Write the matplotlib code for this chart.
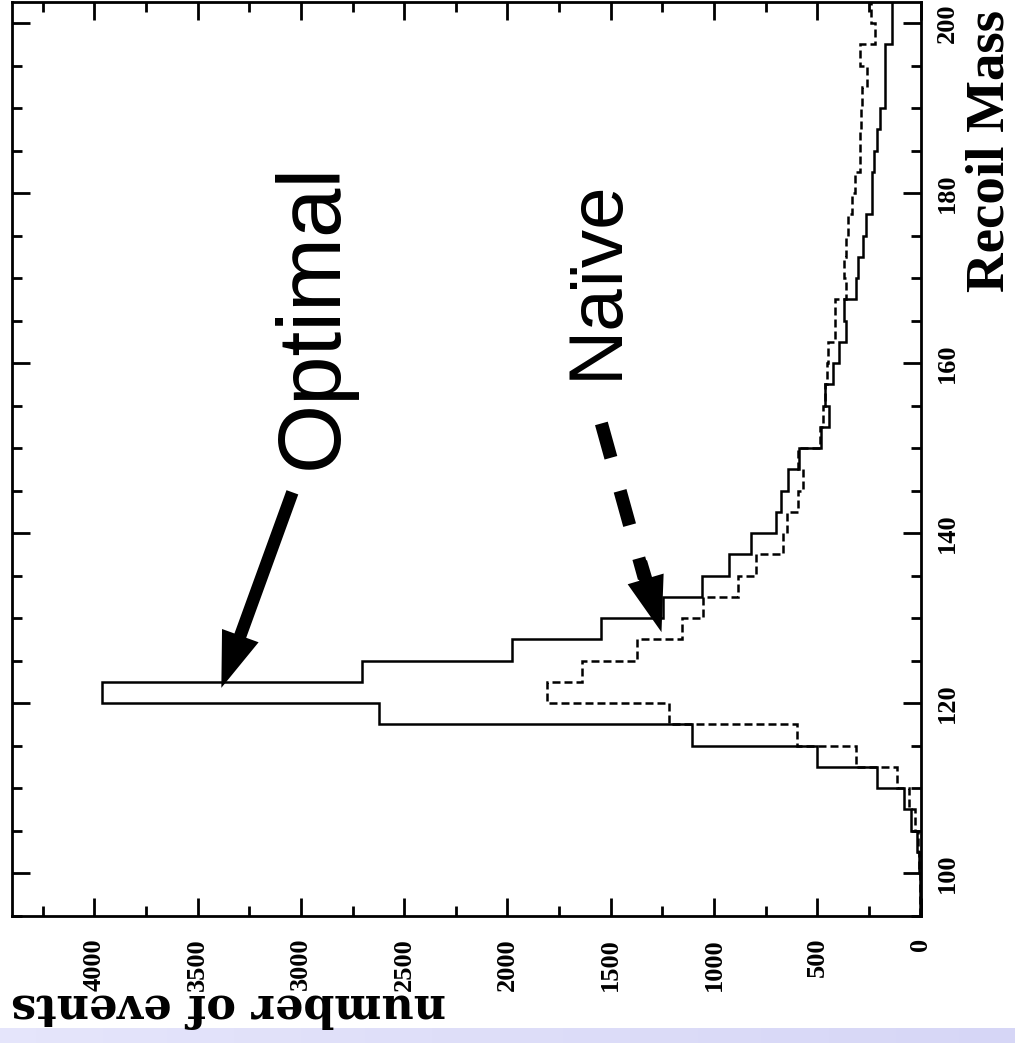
import numpy as np
import matplotlib
matplotlib.use("Agg")
import matplotlib.pyplot as plt
from matplotlib.ticker import MultipleLocator
from matplotlib.colors import LinearSegmentedColormap

# Recoil-mass histogram: 2.5 GeV bins from 95 to 202.5
mass_edges = np.arange(95.0, 202.5 + 1e-9, 2.5)

optimal_counts = [
    2, 3, 8, 19, 44, 82, 210, 499, 1104, 2620,
    3963, 2702, 1976, 1545, 1249, 1060, 925, 820, 700, 675,
    640, 588, 482, 444, 460, 423, 397, 362, 372, 314,
    305, 278, 262, 237, 237, 223, 213, 195, 170, 170,
    170, 138, 138,
]
naive_counts = [
    1, 2, 5, 12, 29, 55, 116, 310, 596, 1217,
    1806, 1637, 1375, 1153, 1051, 886, 798, 664, 644, 592,
    568, 592, 487, 471, 463, 455, 450, 415, 415, 363,
    369, 360, 350, 334, 318, 294, 294, 290, 285, 261,
    294, 221, 240,
]

event_ticks = [0, 500, 1000, 1500, 2000, 2500, 3000, 3500, 4000]
event_tick_labels = ["0", "500", "1000", "1500", "2000", "2500", "3000", "3500", "4000"]
mass_ticks = [100, 120, 140, 160, 180, 200]
mass_tick_labels = ["100", "120", "140", "160", "180", "200"]

W, H = 1015, 1043
fig = plt.figure(figsize=(W / 100, H / 100), dpi=100)
fig.patch.set_facecolor("white")

# lavender strip along the bottom edge
band_h = 15 / H
ax_band = fig.add_axes([0, 0, 1, band_h])
band_cmap = LinearSegmentedColormap.from_list(
    "band", [(0.90, 0.90, 0.985), (0.84, 0.84, 0.965)])
ax_band.imshow(np.linspace(0, 1, 256).reshape(1, -1), aspect="auto",
               cmap=band_cmap, extent=[0, 1, 0, 1])
ax_band.set_axis_off()

left, right = 11.7 / W, 920.5 / W
bottom, top = (H - 915.7) / H, (H - 1.75) / H
ax = fig.add_axes([left, bottom, right - left, top - bottom])

line_w = 1.8
ax.stairs(optimal_counts, mass_edges, orientation="horizontal", baseline=None,
          color="black", lw=line_w)
ax.stairs(naive_counts, mass_edges, orientation="horizontal", baseline=None,
          color="black", lw=line_w, linestyle=(0, (3.2, 1.6)))

ax.set_xlim(4400, 0)
ax.set_ylim(95, 202.5)

for sp in ax.spines.values():
    sp.set_linewidth(2.0)

tick_font = dict(family="Liberation Serif", weight="bold", size=19)
ax.set_xticks(event_ticks)
ax.set_xticklabels(event_tick_labels, rotation=90, **tick_font)
ax.set_yticks(mass_ticks)
ax.set_yticklabels(mass_tick_labels, rotation=90, **tick_font)
ax.xaxis.set_minor_locator(MultipleLocator(250))
ax.yaxis.set_minor_locator(MultipleLocator(5))

ax.tick_params(which="both", direction="in", top=True, bottom=True,
               left=True, right=True, labelleft=False, labelright=True,
               labeltop=False, labelbottom=True, width=2.0)
ax.tick_params(which="major", length=13)
ax.tick_params(which="minor", length=7)
ax.tick_params(axis="x", which="major", pad=16)
ax.tick_params(axis="y", which="major", pad=11)
for lbl in ax.get_yticklabels():
    lbl.set_verticalalignment("center")
    lbl.set_horizontalalignment("left")

# axis titles
fig.text(229 / W, (H - 995) / H, "number of events", rotation=180,
         rotation_mode="anchor", ha="center", va="baseline",
         family="DejaVu Serif", weight="bold", size=32)
fig.text(1003 / W, (H - 151) / H, "Recoil Mass", rotation=90,
         rotation_mode="anchor", ha="center", va="baseline",
         family="Liberation Serif", weight="bold", size=39.5)

# annotations
ax.text(2828, 165.6, "Optimal", rotation=90, rotation_mode="anchor",
        ha="center", va="baseline", family="Liberation Sans", size=64)
ax.text(1472, 169.9, "Na\u00efve", rotation=90, rotation_mode="anchor",
        ha="center", va="baseline", family="Liberation Sans", size=55)

# solid arrow to the optimal peak
ax.annotate("", xy=(3385, 121.8), xytext=(3041, 144.8),
            arrowprops=dict(arrowstyle="simple,head_length=40,head_width=28,tail_width=9",
                            mutation_scale=1, color="black", lw=0,
                            shrinkA=0, shrinkB=0))

# dashed arrow to the naive peak: dashed shaft, solid head
ax.annotate("", xy=(1337, 134.7), xytext=(1545, 152.9),
            arrowprops=dict(arrowstyle="-", lw=9.5, color="black",
                            linestyle=(0, (2.7, 2.6)), capstyle="butt",
                            shrinkA=0, shrinkB=0))
ax.annotate("", xy=(1254, 128.35), xytext=(1355, 136.6),
            arrowprops=dict(arrowstyle="simple,head_length=40,head_width=27,tail_width=9.5",
                            mutation_scale=1, color="black", lw=0,
                            shrinkA=0, shrinkB=0))

fig.savefig("out.png", dpi=100, facecolor="white")
